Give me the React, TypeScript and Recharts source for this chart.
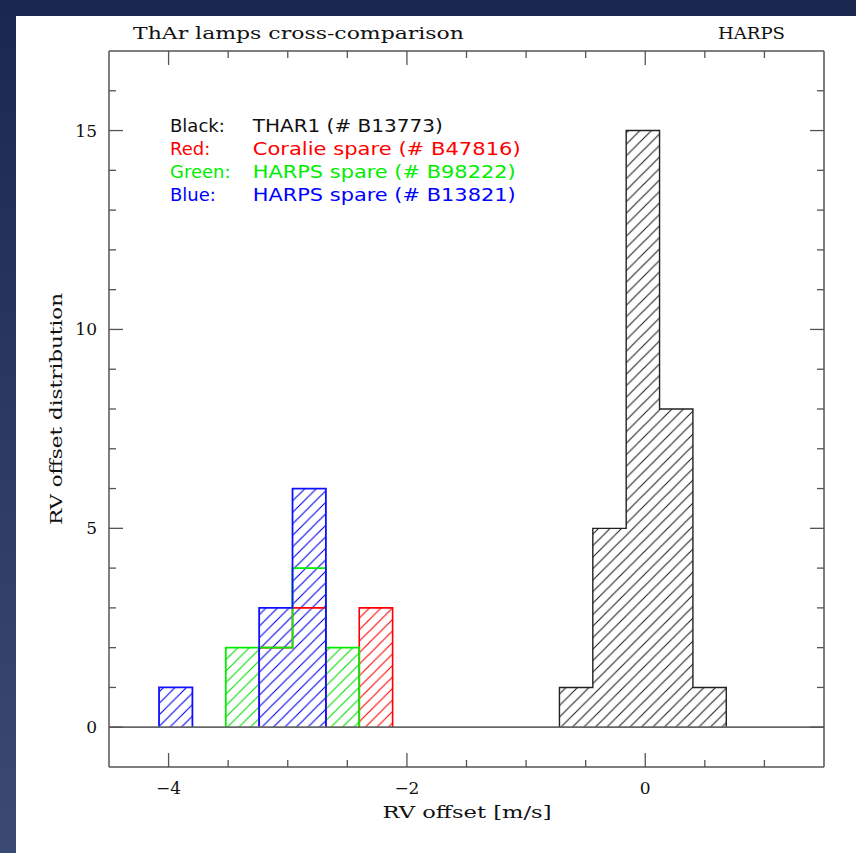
import React from 'react';
import { ComposedChart, Area, XAxis, YAxis, ReferenceLine } from 'recharts';

// Histogram bins (left edges, m/s) and counts per lamp
const binLeft = [-4.08, -3.8, -3.52, -3.24, -2.96, -2.68, -2.4, -2.12, -1.84, -1.56, -1.28, -1.0, -0.72, -0.44, -0.16, 0.12, 0.4];
const binWidth = 0.28;
const blackCounts = [0, 0, 0, 0, 0, 0, 0, 0, 0, 0, 0, 0, 1, 5, 15, 8, 1];
const redCounts = [0, 0, 0, 2, 3, 0, 3, 0, 0, 0, 0, 0, 0, 0, 0, 0, 0];
const greenCounts = [0, 0, 2, 2, 4, 2, 0, 0, 0, 0, 0, 0, 0, 0, 0, 0, 0];
const blueCounts = [1, 0, 0, 3, 6, 0, 0, 0, 0, 0, 0, 0, 0, 0, 0, 0, 0];

const xTicks = [-4, -3.5, -3, -2.5, -2, -1.5, -1, -0.5, 0, 0.5, 1];
const xMajorTicks = [-4, -2, 0];
const yTicks = [0, 1, 2, 3, 4, 5, 6, 7, 8, 9, 10, 11, 12, 13, 14, 15, 16];
const yMajorTicks = [0, 5, 10, 15];

const legendNames = ['Black:', 'Red:', 'Green:', 'Blue:'];
const legendLamps = ['THAR1 (# B13773)', 'Coralie spare (# B47816)', 'HARPS spare (# B98222)', 'HARPS spare (# B13821)'];
const legendColors = ['#111111', '#ff0000', '#00ee00', '#0000ff'];

const AX = '#555555';
const SERIF = '"DejaVu Serif", serif';
const SANS = '"DejaVu Sans", sans-serif';

type Pt = { x: number; y: number | null };

function stepPoints(counts: number[]): Pt[] {
  const pts: Pt[] = [];
  let inRun = false;
  counts.forEach((c, i) => {
    const x0 = binLeft[i];
    if (c > 0) {
      if (!inRun) {
        if (pts.length) pts.push({ x: x0 - binWidth / 2, y: null });
        pts.push({ x: x0, y: 0 });
        inRun = true;
      }
      pts.push({ x: x0, y: c });
    } else if (inRun) {
      pts.push({ x: x0, y: 0 });
      inRun = false;
    }
  });
  if (inRun) pts.push({ x: binLeft[binLeft.length - 1] + binWidth, y: 0 });
  return pts;
}

const series = [
  { id: 'Black', data: stepPoints(blackCounts), stroke: '#222222', hatch: '#222222', sw: 1.4 },
  { id: 'Red', data: stepPoints(redCounts), stroke: '#ff0000', hatch: '#ff0000', sw: 1.6 },
  { id: 'Green', data: stepPoints(greenCounts), stroke: '#00ee00', hatch: '#00dd00', sw: 1.8 },
  { id: 'Blue', data: stepPoints(blueCounts), stroke: '#1010ff', hatch: '#0000ee', sw: 1.8 },
];

const fmt = (v: number) => (v < 0 ? '\u2212' + Math.abs(v) : String(v));

const BottomTick = (props: any) => {
  const { x, y, payload } = props;
  const major = xMajorTicks.includes(payload.value);
  return (
    <g>
      <line x1={x} x2={x} y1={y} y2={y - (major ? 14 : 7)} stroke={AX} strokeWidth={1.3} />
      {major && (
        <text x={x} y={y + 27} textAnchor="middle" fontFamily={SERIF} fontSize={17} fill="#111">
          {fmt(payload.value)}
        </text>
      )}
    </g>
  );
};

const TopTick = (props: any) => {
  const { x, y, payload } = props;
  const major = xMajorTicks.includes(payload.value);
  return <line x1={x} x2={x} y1={y} y2={y + (major ? 14 : 7)} stroke={AX} strokeWidth={1.3} />;
};

const LeftTick = (props: any) => {
  const { x, y, payload } = props;
  const major = yMajorTicks.includes(payload.value);
  return (
    <g>
      <line x1={x} x2={x + (major ? 14 : 7)} y1={y} y2={y} stroke={AX} strokeWidth={1.3} />
      {major && (
        <text x={x - 12} y={y + 6} textAnchor="end" fontFamily={SERIF} fontSize={17} fill="#111">
          {fmt(payload.value)}
        </text>
      )}
    </g>
  );
};

const RightTick = (props: any) => {
  const { x, y, payload } = props;
  const major = yMajorTicks.includes(payload.value);
  return <line x1={x} x2={x - (major ? 14 : 7)} y1={y} y2={y} stroke={AX} strokeWidth={1.3} />;
};

const hatch = (id: string, color: string) => (
  <pattern key={id} id={id} patternUnits="userSpaceOnUse" width={11.5} height={11.5}>
    <rect x={0} y={0} width={11.5} height={11.5} fill="#ffffff" />
    <path d="M0,11.5 L11.5,0 M-3,3 L3,-3 M8.5,14.5 L14.5,8.5" stroke={color} strokeWidth={1.1} />
  </pattern>
);

const axisCommon = {
  type: 'number' as const,
  allowDataOverflow: true,
  interval: 0 as const,
  tickSize: 0,
  tickMargin: 0,
  tickLine: false,
  axisLine: { stroke: AX, strokeWidth: 1.5 },
};

export default function App() {
  return (
    <div
      style={{
        position: 'absolute',
        left: 0,
        top: 0,
        width: 856,
        height: 853,
        overflow: 'hidden',
        background: 'linear-gradient(180deg, #1a2850 0%, #2b3a62 50%, #3b4a72 100%)',
      }}
    >
      <div style={{ position: 'absolute', left: 16, top: 16, right: 0, bottom: 0, background: '#ffffff' }} />
      <div style={{ position: 'absolute', left: 0, top: 0 }}>
        <ComposedChart width={856} height={853} margin={{ top: 50, right: 31, bottom: 85, left: 108 }}>
          <defs>{series.map((s) => hatch('h' + s.id, s.hatch))}</defs>
          <XAxis xAxisId="b" dataKey="x" domain={[-4.5, 1.5]} ticks={xTicks} height={1} tick={<BottomTick />} {...axisCommon} />
          <XAxis xAxisId="t" orientation="top" dataKey="x" domain={[-4.5, 1.5]} ticks={xTicks} height={1} tick={<TopTick />} {...axisCommon} />
          <YAxis yAxisId="l" domain={[-1, 17]} ticks={yTicks} width={1} tick={<LeftTick />} {...axisCommon} />
          <YAxis yAxisId="r" orientation="right" domain={[-1, 17]} ticks={yTicks} width={1} tick={<RightTick />} {...axisCommon} />
          {series.map((s) => (
            <Area
              key={'f' + s.id}
              xAxisId="b"
              yAxisId="l"
              data={s.data}
              dataKey="y"
              type="stepAfter"
              baseValue={0}
              stroke="none"
              fill={'url(#h' + s.id + ')'}
              fillOpacity={1}
              isAnimationActive={false}
              dot={false}
              activeDot={false}
            />
          ))}
          {series.map((s) => (
            <Area
              key={'s' + s.id}
              xAxisId="b"
              yAxisId="l"
              data={s.data}
              dataKey="y"
              type="stepAfter"
              baseValue={0}
              stroke={s.stroke}
              strokeWidth={s.sw}
              fill="none"
              isAnimationActive={false}
              dot={false}
              activeDot={false}
            />
          ))}
          <ReferenceLine xAxisId="b" yAxisId="l" y={0} stroke="#666666" strokeWidth={1.8} />
        </ComposedChart>
      </div>
      <svg width={856} height={853} style={{ position: 'absolute', left: 0, top: 0, pointerEvents: 'none' }}>
        <text x={133} y={39} fontFamily={SERIF} fontSize={17} fill="#111" textLength={331} lengthAdjust="spacingAndGlyphs">
          ThAr lamps cross-comparison
        </text>
        <text x={718} y={39} fontFamily={SERIF} fontSize={17} fill="#111" textLength={67} lengthAdjust="spacingAndGlyphs">
          HARPS
        </text>
        {legendNames.map((n, i) => (
          <text key={'n' + i} x={170} y={131.7 + i * 23.1} fontFamily={SANS} fontSize={18} fill={legendColors[i]}>
            {n}
          </text>
        ))}
        {legendLamps.map((n, i) => (
          <text
            key={'l' + i}
            x={252.7}
            y={131.7 + i * 23.1}
            fontFamily={SANS}
            fontSize={18}
            fill={legendColors[i]}
            textLength={[190, 268, 263, 263][i]}
            lengthAdjust="spacingAndGlyphs"
          >
            {n}
          </text>
        ))}
        <text x={467} y={818} textAnchor="middle" fontFamily={SERIF} fontSize={17} fill="#111" textLength={169} lengthAdjust="spacingAndGlyphs">
          RV offset [m/s]
        </text>
        <text
          x={62}
          y={409}
          transform="rotate(-90 62 409)"
          textAnchor="middle"
          fontFamily={SERIF}
          fontSize={17}
          fill="#111"
          textLength={232}
          lengthAdjust="spacingAndGlyphs"
        >
          RV offset distribution
        </text>
      </svg>
    </div>
  );
}
